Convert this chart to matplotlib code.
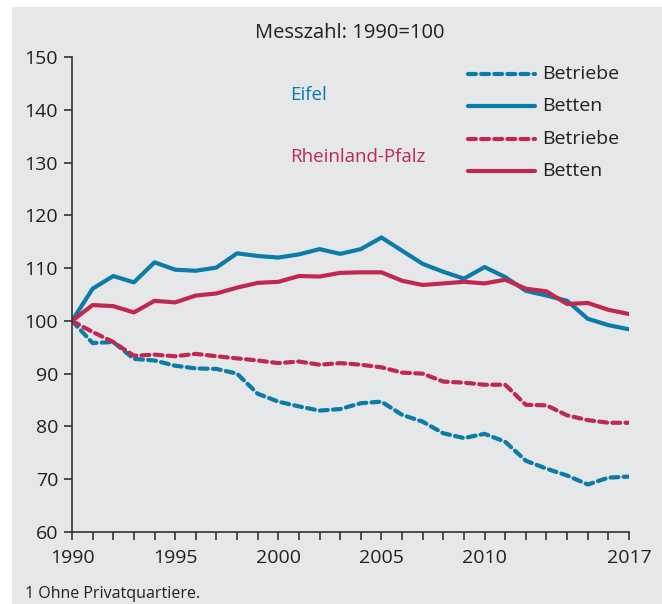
import matplotlib
matplotlib.use("Agg")
import matplotlib.pyplot as plt
from matplotlib.lines import Line2D
from matplotlib.patches import Rectangle

plt.rcParams['font.family'] = ['Open Sans', 'DejaVu Sans']

years = list(range(1990, 2018))
eifel_betriebe = [100, 95.8, 96.0, 92.8, 92.5, 91.5, 91.0, 90.9, 90.0, 86.2,
                  84.7, 83.8, 83.0, 83.3, 84.4, 84.7, 82.2, 80.9, 78.7, 77.8,
                  78.6, 77.1, 73.5, 72.0, 70.7, 69.0, 70.3, 70.5]
eifel_betten = [100, 106.1, 108.5, 107.3, 111.1, 109.7, 109.5, 110.1, 112.8, 112.3,
                112.0, 112.6, 113.6, 112.7, 113.6, 115.8, 113.3, 110.8, 109.3, 108.0,
                110.2, 108.3, 105.7, 104.8, 103.8, 100.4, 99.2, 98.4]
rp_betriebe = [100, 97.9, 96.0, 93.4, 93.6, 93.3, 93.75, 93.3, 92.9, 92.5,
               92.0, 92.3, 91.7, 92.0, 91.7, 91.2, 90.2, 90.0, 88.5, 88.3,
               87.9, 87.9, 84.1, 84.0, 82.1, 81.2, 80.7, 80.7]
rp_betten = [100, 103.0, 102.8, 101.6, 103.8, 103.5, 104.8, 105.2, 106.3, 107.2,
             107.4, 108.5, 108.4, 109.1, 109.2, 109.2, 107.6, 106.8, 107.1, 107.4,
             107.1, 107.8, 106.1, 105.6, 103.2, 103.4, 102.1, 101.3]
xtick_labels = [1990, 1995, 2000, 2005, 2010, 2017]
yticks = [60, 70, 80, 90, 100, 110, 120, 130, 140, 150]

BLUE = '#0b7ba8'
RED = '#c1284f'
BG = '#e6e7e9'
TXT = '#231f20'

W, H = 662, 604
fig = plt.figure(figsize=(W / 100, H / 100), dpi=100)
fig.patch.set_facecolor('white')
fig.add_artist(Rectangle((12 / W, 0), 1 - 12 / W, 1 - 7 / H, transform=fig.transFigure,
                         facecolor=BG, edgecolor='none', zorder=-10))

ax = fig.add_axes([72 / W, (H - 532) / H, (629 - 72) / W, (532 - 57) / H])
ax.set_facecolor('none')

lw = 3.0
dash = (1.9, 1.25)
ax.plot(years, eifel_betriebe, color=BLUE, lw=lw, dashes=dash, dash_capstyle='round', solid_joinstyle='round')
ax.plot(years, eifel_betten, color=BLUE, lw=lw, solid_capstyle='round', solid_joinstyle='round')
ax.plot(years, rp_betriebe, color=RED, lw=lw, dashes=dash, dash_capstyle='round', solid_joinstyle='round')
ax.plot(years, rp_betten, color=RED, lw=lw, solid_capstyle='round', solid_joinstyle='round')

ax.set_xlim(1990, 2017)
ax.set_ylim(60, 150)
ax.set_yticks(yticks)
ax.set_xticks(years, minor=True)
ax.set_xticks(xtick_labels)
ax.set_xticklabels([str(v) for v in xtick_labels])
for s in ['top', 'right']:
    ax.spines[s].set_visible(False)
for s in ['left', 'bottom']:
    ax.spines[s].set_color('#333333')
    ax.spines[s].set_linewidth(1.2)
ax.tick_params(axis='y', direction='out', length=6, width=1.2, color='#333333',
               labelsize=14, labelcolor=TXT, pad=4)
ax.tick_params(axis='x', which='both', direction='out', length=6, width=1.2, color='#333333',
               labelsize=14, labelcolor=TXT, pad=6)

# title and annotations
fig.text(350 / W, 1 - 33 / H, 'Messzahl: 1990=100', ha='center', va='center', fontsize=14.5, color=TXT)
fig.text(290 / W, 1 - 95 / H, 'Eifel', ha='left', va='center', fontsize=13.5, color=BLUE)
fig.text(290 / W, 1 - 157 / H, 'Rheinland-Pfalz', ha='left', va='center', fontsize=13.5, color=RED)
fig.text(25 / W, 1 - 594 / H, '1 Ohne Privatquartiere.', ha='left', va='center', fontsize=11.5, color=TXT)

# legend
rows = [(74, BLUE, True, 'Betriebe'), (106, BLUE, False, 'Betten'),
        (139, RED, True, 'Betriebe'), (171, RED, False, 'Betten')]
for y, c, dashed, lab in rows:
    kw = dict(color=c, lw=lw, transform=fig.transFigure)
    if dashed:
        kw.update(dashes=dash, dash_capstyle='round')
    else:
        kw.update(solid_capstyle='round')
    fig.add_artist(Line2D([468 / W, 535 / W], [1 - y / H, 1 - y / H], **kw))
    fig.text(542 / W, 1 - y / H, lab, ha='left', va='center', fontsize=14, color=TXT)

fig.savefig('out.png', dpi=100)
